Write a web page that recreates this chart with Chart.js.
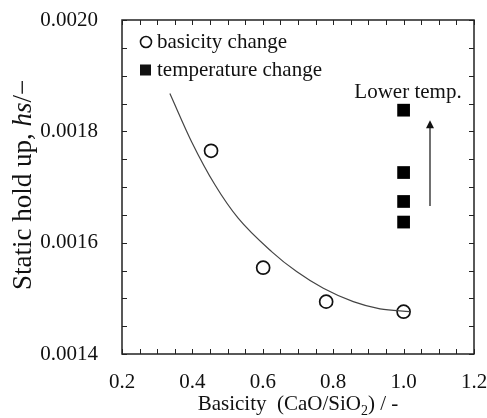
<!DOCTYPE html>
<html>
<head>
<meta charset="utf-8">
<script src="https://cdn.jsdelivr.net/npm/chart.js@4"></script>
<style>
  html, body { margin: 0; padding: 0; background: #fff; }
  #wrap { width: 487px; height: 418px; }
</style>
</head>
<body>
<div id="wrap"><canvas id="chart" width="487" height="418"></canvas></div>
<script>
// --- data ---
const basicityX = [0.453, 0.601, 0.780, 1.000];
const basicityY = [0.001765, 0.001555, 0.001494, 0.001476];

const tempX = [1.0, 1.0, 1.0, 1.0];
const tempY = [0.001838, 0.001726, 0.001674, 0.001637];

// fitted trend curve
const fitX = [0.336, 0.398, 0.464, 0.530, 0.625, 0.696, 0.772, 0.857, 0.933, 1.018];
const fitY = [0.001868, 0.001781, 0.001704, 0.001644, 0.001584, 0.001548, 0.001518, 0.001494, 0.001481, 0.001476];

const xTicks = [0.2, 0.4, 0.6, 0.8, 1.0, 1.2];
const yTicks = [0.0014, 0.0016, 0.0018, 0.0020];

const arrowX = [1.075, 1.075];
const arrowY = [0.001666, 0.00182];
const noteText = 'Lower temp.';
const noteAt = { x: 1.0125, y: 0.00184 };

const FONT = "'Liberation Serif', 'Times New Roman', serif";
const INK = '#111';

const toPts = (xs, ys) => xs.map((x, i) => ({ x, y: ys[i] }));

// frame, inward ticks, titles, legend, arrow note
const decorations = {
  id: 'decorations',
  afterDatasetsDraw(chart) {
    const { ctx, chartArea: a, scales: { x, y } } = chart;
    ctx.save();

    // frame
    ctx.strokeStyle = '#222';
    ctx.lineWidth = 1.5;
    ctx.strokeRect(a.left, a.top, a.right - a.left, a.bottom - a.top);

    // inward ticks every 0.05 / 0.00005
    ctx.lineWidth = 1;
    ctx.beginPath();
    for (let v = x.min; v <= x.max + 1e-9; v += 0.05) {
      const px = Math.round(x.getPixelForValue(v)) + 0.5;
      ctx.moveTo(px, a.bottom); ctx.lineTo(px, a.bottom - 5);
      ctx.moveTo(px, a.top); ctx.lineTo(px, a.top + 5);
    }
    for (let v = y.min; v <= y.max + 1e-12; v += 0.00005) {
      const py = Math.round(y.getPixelForValue(v)) + 0.5;
      ctx.moveTo(a.left, py); ctx.lineTo(a.left + 5, py);
      ctx.moveTo(a.right, py); ctx.lineTo(a.right - 5, py);
    }
    ctx.stroke();

    // arrow
    const ax = x.getPixelForValue(arrowX[0]);
    const ay0 = y.getPixelForValue(arrowY[0]);
    const ay1 = y.getPixelForValue(arrowY[1]);
    ctx.strokeStyle = INK;
    ctx.fillStyle = INK;
    ctx.lineWidth = 1.2;
    ctx.beginPath();
    ctx.moveTo(ax, ay0); ctx.lineTo(ax, ay1 + 6);
    ctx.stroke();
    ctx.beginPath();
    ctx.moveTo(ax, ay1);
    ctx.lineTo(ax - 4, ay1 + 8);
    ctx.lineTo(ax + 4, ay1 + 8);
    ctx.closePath();
    ctx.fill();

    // note
    ctx.font = `21px ${FONT}`;
    ctx.textAlign = 'center';
    ctx.textBaseline = 'alphabetic';
    ctx.fillText(noteText, x.getPixelForValue(noteAt.x), y.getPixelForValue(noteAt.y) - 11);

    // legend
    ctx.textAlign = 'left';
    const rows = [42, 70];
    chart.data.datasets.filter(d => d.inLegend).forEach((d, i) => {
      const cy = rows[i];
      ctx.lineWidth = 1.6;
      if (d.pointStyle === 'circle') {
        ctx.beginPath();
        ctx.arc(146, cy, 5.5, 0, Math.PI * 2);
        ctx.stroke();
      } else {
        ctx.fillRect(140, cy - 5.5, 11, 11);
      }
      ctx.fillText(d.label, 157, cy + 6);
    });

    // x title with subscript
    ctx.textBaseline = 'alphabetic';
    const xs = [['Basicity  (CaO/SiO', 21, 0], ['2', 14, 5], [') / -', 21, 0]];
    let tw = 0;
    xs.forEach(([t, s]) => { ctx.font = `${s}px ${FONT}`; tw += ctx.measureText(t).width; });
    let tx = (a.left + a.right) / 2 - tw / 2;
    xs.forEach(([t, s, dy]) => {
      ctx.font = `${s}px ${FONT}`;
      ctx.fillText(t, tx, 410 + dy);
      tx += ctx.measureText(t).width;
    });

    // y title with italic symbol
    ctx.save();
    ctx.translate(31, 185);
    ctx.rotate(-Math.PI / 2);
    const ys = [['Static hold up, ', ''], ['hs', 'italic '], ['/\u2212', '']];
    let yw = 0;
    ys.forEach(([t, st]) => { ctx.font = `${st}27px ${FONT}`; yw += ctx.measureText(t).width; });
    let ty = -yw / 2;
    ys.forEach(([t, st]) => {
      ctx.font = `${st}27px ${FONT}`;
      ctx.fillText(t, ty, 0);
      ty += ctx.measureText(t).width;
    });
    ctx.restore();

    ctx.restore();
  }
};

new Chart(document.getElementById('chart'), {
  type: 'scatter',
  data: {
    datasets: [
      {
        label: 'fit',
        type: 'line',
        data: toPts(fitX, fitY),
        borderColor: '#444',
        borderWidth: 1.2,
        pointRadius: 0,
        cubicInterpolationMode: 'monotone',
        fill: false,
      },
      {
        label: 'basicity change',
        inLegend: true,
        data: toPts(basicityX, basicityY),
        pointStyle: 'circle',
        pointRadius: 6.5,
        borderWidth: 1.7,
        borderColor: INK,
        backgroundColor: 'rgba(0,0,0,0)',
      },
      {
        label: 'temperature change',
        inLegend: true,
        data: toPts(tempX, tempY),
        pointStyle: 'rect',
        pointRadius: 9,
        borderWidth: 0,
        backgroundColor: '#000',
      },
    ],
  },
  options: {
    responsive: false,
    animation: false,
    layout: { padding: { top: 20, right: 13, left: 0, bottom: 0 } },
    plugins: { legend: { display: false }, tooltip: { enabled: false } },
    scales: {
      x: {
        min: 0.2, max: 1.2,
        afterBuildTicks: s => { s.ticks = xTicks.map(v => ({ value: v })); },
        afterFit: s => { s.height = 64; s.paddingLeft = 0; s.paddingRight = 0; },
        grid: { display: false, drawTicks: false },
        border: { display: false },
        ticks: {
          padding: 16, color: INK, maxRotation: 0,
          font: { family: FONT, size: 21 },
          callback: v => Number(v).toFixed(1),
        },
      },
      y: {
        min: 0.0014, max: 0.0020,
        afterBuildTicks: s => { s.ticks = yTicks.map(v => ({ value: v })); },
        afterFit: s => { s.width = 122; s.paddingTop = 0; s.paddingBottom = 0; },
        grid: { display: false, drawTicks: false },
        border: { display: false },
        ticks: {
          padding: 24, color: INK,
          font: { family: FONT, size: 21 },
          callback: v => Number(v).toFixed(4),
        },
      },
    },
  },
  plugins: [decorations],
});
</script>
</body>
</html>
